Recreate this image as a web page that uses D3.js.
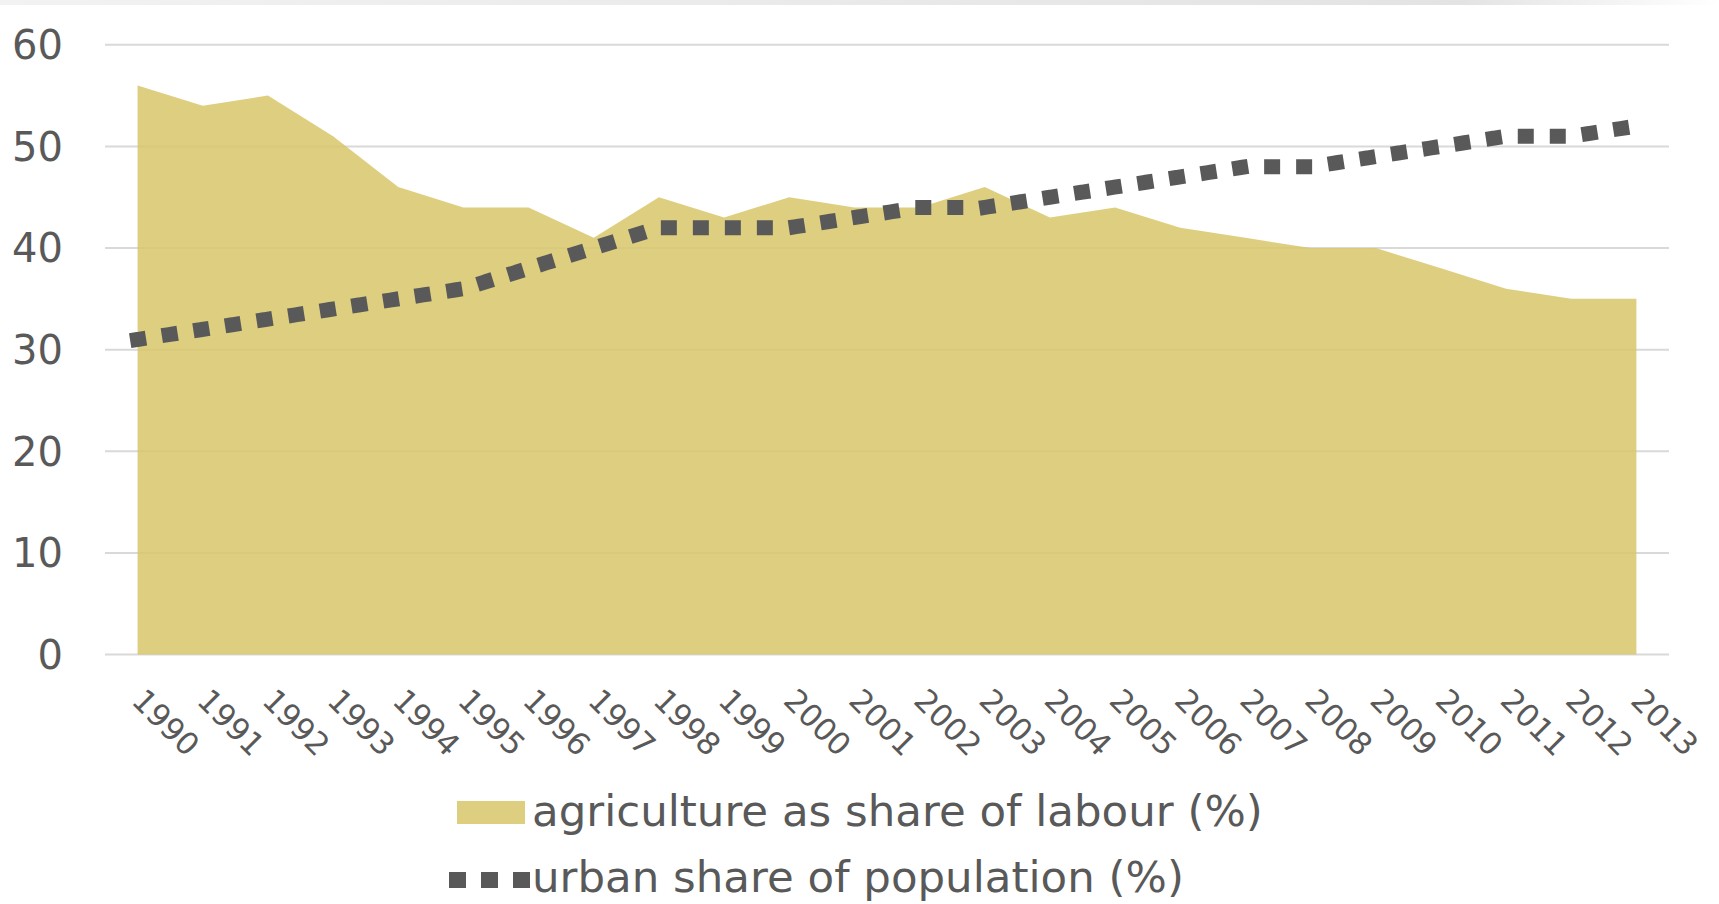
<!DOCTYPE html>
<html>
<head>
<meta charset="utf-8">
<script src="https://cdnjs.cloudflare.com/ajax/libs/d3/7.8.5/d3.min.js"></script>
<style>
  body { margin: 0; background: #fff; }
  svg { display: block; }
</style>
</head>
<body>
<div id="chart"></div>
<script>
// data
var years = ["1990", "1991", "1992", "1993", "1994", "1995", "1996", "1997", "1998", "1999", "2000", "2001",
    "2002", "2003", "2004", "2005", "2006", "2007", "2008", "2009", "2010", "2011", "2012", "2013"];
var agriShare = [56, 54, 55, 51, 46, 44, 44, 41, 45, 43, 45, 44, 44, 46, 43, 44, 42, 41, 40, 40, 38, 36, 35, 35];
var urbanShare = [31, 32, 33, 34, 35, 36, 38, 40, 42, 42, 42, 43, 44, 44, 45, 46, 47, 48, 48, 49, 50, 51, 51, 52];
var yTicks = [0, 10, 20, 30, 40, 50, 60];
var legendLabels = ["agriculture as share of labour (%)", "urban share of population (%)"];

var W = 1719, H = 904;
var textColor = "#595959";
var areaColor = "#d8c56a";

var svg = d3.select("#chart")
    .append("svg")
    .attr("width", W)
    .attr("height", H);

// thin grey band on top
var grad = svg.append("defs").append("linearGradient").attr("id", "topband");
grad.append("stop").attr("offset", "0%").attr("stop-color", "#f2f2f2");
grad.append("stop").attr("offset", "85%").attr("stop-color", "#e3e3e3");
grad.append("stop").attr("offset", "100%").attr("stop-color", "#ffffff");
svg.append("rect")
    .attr("x", 0).attr("y", 0)
    .attr("width", W).attr("height", 5)
    .attr("fill", "url(#topband)");

var x = d3.scalePoint()
    .domain(years)
    .range([105, 1669])
    .padding(0.5);

var y = d3.scaleLinear()
    .domain([0, 60])
    .range([654.5, 44.8]);

// gridlines
svg.append("g")
    .selectAll("line.grid")
    .data(yTicks)
    .enter()
    .append("line")
    .attr("class", "grid")
    .attr("x1", 105)
    .attr("x2", 1669)
    .attr("y1", function (d) { return y(d) })
    .attr("y2", function (d) { return y(d) })
    .attr("stroke", "#d9d9d9")
    .attr("stroke-width", 2);

// y labels
svg.append("g")
    .selectAll("text.ylab")
    .data(yTicks)
    .enter()
    .append("text")
    .attr("class", "ylab")
    .attr("x", 63)
    .attr("y", function (d) { return y(d) })
    .attr("dy", "0.36em")
    .attr("text-anchor", "end")
    .style("font-family", "DejaVu Sans")
    .style("font-size", "40px")
    .style("fill", textColor)
    .text(function (d) { return d });

// agriculture area
var data = years.map(function (yr, i) {
    return { year: yr, agri: agriShare[i], urban: urbanShare[i] };
});

svg.append("path")
    .datum(data)
    .attr("fill", areaColor)
    .attr("fill-opacity", 0.85)
    .attr("d", d3.area()
        .x(function (d) { return x(d.year) })
        .y0(y(0))
        .y1(function (d) { return y(d.agri) })
    );

// urban line, square dots
svg.append("path")
    .datum(data)
    .attr("fill", "none")
    .attr("stroke", "#595959")
    .attr("stroke-width", 15)
    .attr("stroke-linecap", "square")
    .attr("stroke-dasharray", "1 31")
    .attr("d", d3.line()
        .x(function (d) { return x(d.year) })
        .y(function (d) { return y(d.urban) })
    );

// x labels, rotated
svg.append("g")
    .selectAll("text.xlab")
    .data(years)
    .enter()
    .append("text")
    .attr("class", "xlab")
    .attr("transform", function (d) { return "translate(" + (x(d) + 9) + ",686) rotate(45)" })
    .attr("y", 23)
    .style("font-family", "DejaVu Sans")
    .style("font-size", "31px")
    .style("fill", textColor)
    .text(function (d) { return d });

// legend
svg.append("rect")
    .attr("x", 457).attr("y", 801)
    .attr("width", 68).attr("height", 23)
    .attr("fill", areaColor)
    .attr("fill-opacity", 0.85);

svg.append("line")
    .attr("x1", 457).attr("x2", 522)
    .attr("y1", 880).attr("y2", 880)
    .attr("stroke", "#595959")
    .attr("stroke-width", 16)
    .attr("stroke-linecap", "square")
    .attr("stroke-dasharray", "1 31");

svg.append("g")
    .selectAll("text.leg")
    .data(legendLabels)
    .enter()
    .append("text")
    .attr("class", "leg")
    .attr("x", 532)
    .attr("y", function (d, i) { return 826 + i * 66 })
    .style("font-family", "DejaVu Sans")
    .style("font-size", "43.5px")
    .style("fill", textColor)
    .text(function (d) { return d });
</script>
</body>
</html>
